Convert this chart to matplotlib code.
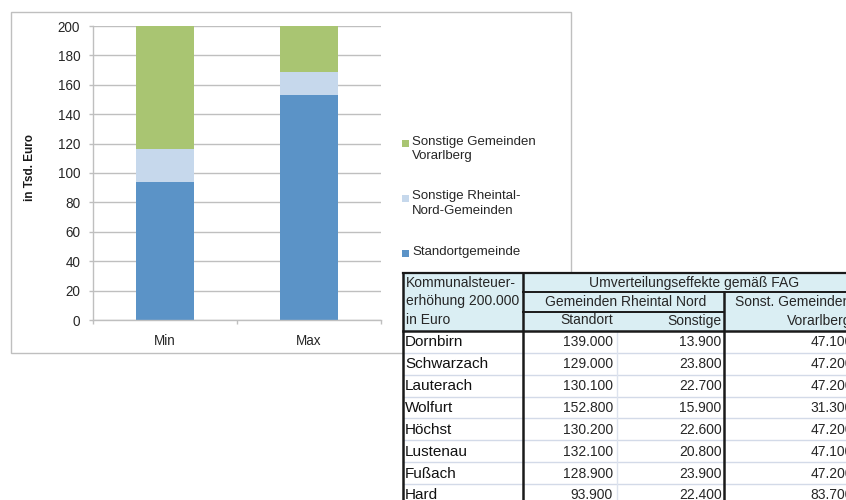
import matplotlib

matplotlib.use("Agg")
import matplotlib.pyplot as plt
from matplotlib.patches import Rectangle

plt.rcParams["font.family"] = ["Liberation Sans", "DejaVu Sans"]

# Chart data (Tsd. Euro)
categories = ["Min", "Max"]
standort = [93.9, 152.8]
sonstige_rheintal = [22.4, 15.9]
sonstige_vorarlberg = [83.7, 31.3]

series_labels = [
    "Sonstige Gemeinden\nVorarlberg",
    "Sonstige Rheintal-\nNord-Gemeinden",
    "Standortgemeinde",
]
series_colors = ["#a9c572", "#c6d8ec", "#5b93c7"]

# Table data (Euro)
gemeinden = ["Dornbirn", "Schwarzach", "Lauterach", "Wolfurt", "Höchst",
             "Lustenau", "Fußach", "Hard"]
tab_standort = [139000, 129000, 130100, 152800, 130200, 132100, 128900, 93900]
tab_sonstige = [13900, 23800, 22700, 15900, 22600, 20800, 23900, 22400]
tab_vorarlberg = [47100, 47200, 47200, 31300, 47200, 47100, 47200, 83700]

W, H = 846, 500
GRID = "#bfbfbf"
TXT = "#262626"


def fmt(v):
    return f"{v:,}".replace(",", ".")


fig = plt.figure(figsize=(W / 100, H / 100), dpi=100)

# --- stacked bar chart ---
ax_l, ax_r, ax_t, ax_b = 92.7, 381, 26, 320
ax = fig.add_axes([ax_l / W, 1 - ax_b / H, (ax_r - ax_l) / W, (ax_b - ax_t) / H])
x = list(range(len(categories)))
bottom2 = [a + b for a, b in zip(standort, sonstige_rheintal)]
ax.bar(x, standort, width=0.4, color=series_colors[2], zorder=2)
ax.bar(x, sonstige_rheintal, width=0.4, bottom=standort, color=series_colors[1], zorder=2)
ax.bar(x, sonstige_vorarlberg, width=0.4, bottom=bottom2, color=series_colors[0], zorder=2)
ax.set_xlim(-0.5, len(categories) - 0.5)
ax.set_ylim(0, 200)
ax.set_yticks(range(0, 201, 20))
ax.yaxis.grid(True, color=GRID, lw=1)
ax.set_axisbelow(True)
for s in ["top", "right"]:
    ax.spines[s].set_visible(False)
for s in ["left", "bottom"]:
    ax.spines[s].set_color(GRID)
    ax.spines[s].set_linewidth(1)
ax.tick_params(axis="y", length=3, width=1, color=GRID, pad=6,
               labelsize=9.75, labelcolor=TXT)
ax.set_xticks(x, categories)
ax.set_xticks([-0.5, 0.5, 1.5], minor=True)
ax.tick_params(axis="x", which="major", length=0, pad=10, labelsize=9.75, labelcolor=TXT)
ax.tick_params(axis="x", which="minor", length=3, width=1, color=GRID)

fig.text(30 / W, 1 - 167.5 / H, "in Tsd. Euro", rotation=90, ha="center",
         va="center", fontsize=8.5, fontweight="bold", color="#1a1a1a")

# --- overlay in pixel coordinates: frame, legend, table ---
ov = fig.add_axes([0, 0, 1, 1], zorder=3)
ov.set_xlim(0, W)
ov.set_ylim(H, 0)
ov.axis("off")

ov.add_patch(Rectangle((11, 12), 560, 341, fill=False, edgecolor=GRID, lw=1))

legend_y = [143, 198, 253]
for lab, col, ly in zip(series_labels, series_colors, legend_y):
    ov.add_patch(Rectangle((402, ly - 3.5), 7, 7, color=col, lw=0))
    ov.text(412, ly - 7.5, lab, ha="left", va="top", fontsize=9.5, color=TXT,
            linespacing=1.25)

# table geometry
cols = [403, 523, 617, 724, 870]
top, h1, h2, h3 = 273, 292, 311.5, 331
row_h = 21.86
dark = "#1a1a1a"
hdr = "#daeef3"
n = len(gemeinden)
bottom = h3 + row_h * n

ov.add_patch(Rectangle((cols[0], top), cols[-1] - cols[0], h3 - top, color=hdr, lw=0))
ov.add_patch(Rectangle((cols[0], h3), cols[-1] - cols[0], bottom - h3, color="white", lw=0))

for i in range(1, n):
    yy = h3 + row_h * i
    ov.plot([cols[0], cols[-1]], [yy, yy], color="#d3dae8", lw=1)
ov.plot([cols[2], cols[2]], [h3, bottom], color="#dde3ee", lw=1)

ov.plot([cols[0], cols[-1]], [top, top], color=dark, lw=1.6)
ov.plot([cols[1], cols[-1]], [h1, h1], color=dark, lw=1.4)
ov.plot([cols[1], cols[3]], [h2, h2], color=dark, lw=1.4)
ov.plot([cols[0], cols[-1]], [h3, h3], color=dark, lw=1.8)
ov.plot([cols[0], cols[0]], [top, bottom], color=dark, lw=1.8)
ov.plot([cols[1], cols[1]], [top, bottom], color=dark, lw=1.8)
ov.plot([cols[3], cols[3]], [h1, bottom], color=dark, lw=1.8)

hs = 10
for k, line in enumerate(["Kommunalsteuer-", "erhöhung 200.000", "in Euro"]):
    ov.text(cols[0] + 2.5, [283, 301.5, 320.5][k], line, ha="left", va="center",
            fontsize=hs, color=TXT)
ov.text(694, 283, "Umverteilungseffekte gemäß FAG", ha="center", va="center",
        fontsize=hs, color=TXT)
ov.text(626, 301.5, "Gemeinden Rheintal Nord", ha="center", va="center",
        fontsize=hs, color=TXT)
ov.text(613, 320.5, "Standort", ha="right", va="center", fontsize=hs, color=TXT)
ov.text(721.5, 320.5, "Sonstige", ha="right", va="center", fontsize=hs, color=TXT)
ov.text(850, 301.5, "Sonst. Gemeinden", ha="right", va="center", fontsize=hs, color=TXT)
ov.text(851, 320.5, "Vorarlberg", ha="right", va="center", fontsize=hs, color=TXT)

for i, name in enumerate(gemeinden):
    yc = h3 + row_h * (i + 0.5) + 0.5
    ov.text(cols[0] + 2, yc, name, ha="left", va="center", fontsize=11, color="#111111")
    ov.text(613, yc, fmt(tab_standort[i]), ha="right", va="center", fontsize=10, color=TXT)
    ov.text(721.5, yc, fmt(tab_sonstige[i]), ha="right", va="center", fontsize=10, color=TXT)
    ov.text(853, yc, fmt(tab_vorarlberg[i]), ha="right", va="center", fontsize=10, color=TXT)

fig.savefig("out.png", dpi=100)
plt.close(fig)
